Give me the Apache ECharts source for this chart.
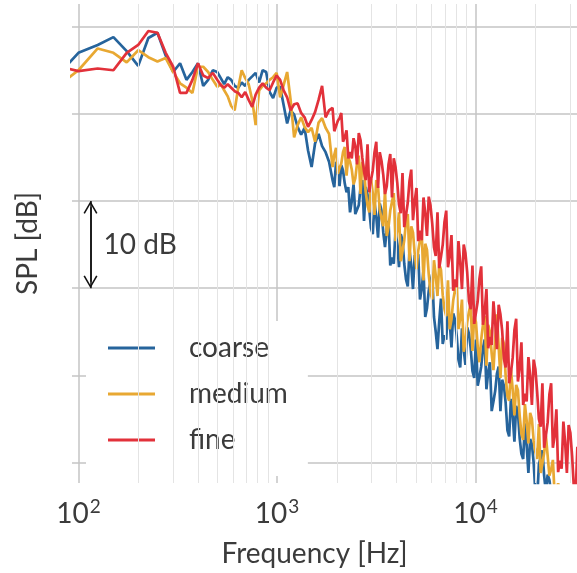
<!DOCTYPE html>
<html><head><meta charset="utf-8">
<script src="https://cdn.jsdelivr.net/npm/echarts@6/dist/echarts.min.js"></script>
<style>html,body{margin:0;padding:0;background:#fff}#c{width:577px;height:573px}</style>
</head><body><div id="c"></div>
<script>
// ---- data (frequency in Hz, SPL in dB, arbitrary reference) ----
const freqs = [75,100,125,150,175,200,225,250,275,300,325,350,375,400,425,450,475,
500,521,542,565,588,612,638,664,692,720,750,781,813,847,882,918,956,996,1037,1080,1125,1171,1220,1270,1323,1377,1434,1494,1555,1620,1687,1757,1829,
1905,1944,1984,2025,2066,2108,2151,2195,2240,2286,2333,2381,2430,2480,2530,2582,2635,2689,2744,2800,2858,2917,2976,3037,3099,3163,3228,3294,3361,3430,
3500,3572,3645,3720,3796,3874,3953,4034,4117,4202,4287,4375,4465,4557,4650,4745,4842,4941,5043,5147,5251,5359,5469,5581,5695,5812,5931,6053,6176,6303,
6432,6564,6698,6836,6976,7119,7264,7413,7565,7720,7878,8040,8204,8372,8544,8720,8897,9080,9266,9456,9649,9847,10049,10255,10465,10680,10898,11122,11349,11582,
11819,12061,12308,12560,12817,13080,13348,13622,13900,14185,14476,14773,15075,15384,15699,16021,16349,16684,17025,17374,17730,18094,18464,18843,19228,19622,
20024,20435,20853,21281,21716,22161,22615,23079,23551,24034,24526,25029,25541,26065,26598,27144,27699,28267,28846,29437,30040,30656,31283,31925,32578];

const coarse = [73.9,77.0,77.9,78.8,77.2,75.5,78.7,79.3,76.7,74.8,75.8,73.9,74.8,75.8,73.2,73.9,75.0,
74.8,74.1,73.4,74.2,73.9,73.2,73.0,73.6,73.2,73.9,74.3,74.7,73.6,75.0,74.8,72.5,71.8,73.0,73.1,71.0,68.9,70.4,69.9,68.5,67.6,68.4,65.8,63.9,66.6,67.7,66.3,65.6,64.5,
62.4,61.6,64.5,63.4,61.7,64.1,63.5,62.0,61.0,61.6,
58.7,60.0,61.9,58.5,58.6,59.5,61.6,62.4,57.7,61.6,
60.7,59.0,56.9,56.2,59.8,58.2,55.8,59.7,58.9,56.4,
54.7,56.8,57.7,52.6,53.5,52.8,56.6,55.1,52.4,56.2,
55.5,52.8,51.0,50.2,54.4,52.6,49.9,53.8,53.2,53.9,
48.7,49.9,52.1,46.7,47.7,49.7,50.7,51.6,46.7,45.0,
43.0,46.2,48.8,43.6,44.6,44.1,47.7,46.1,43.2,47.1,
46.4,44.5,41.8,40.9,45.4,42.9,41.2,45.5,44.8,43.1,
40.5,39.7,44.1,38.8,39.8,41.0,43.1,44.1,38.4,40.4,
41.5,35.9,37.0,38.2,40.2,41.0,35.9,39.5,38.8,36.8,
33.7,33.0,37.3,35.5,32.4,36.5,35.8,32.8,31.0,30.4,
34.5,32.0,28.8,32.7,32.1,30.0,26.5,25.7,29.8,30.6,
31.4,28.5,26.6,28.6,28.0,26.5,25.9,27.0,25.1,24.8,
24.6,24.3,24.0,23.7,23.4,23.1,22.8,22.5,22.3,22.0,21.7];

const medium = [72.8,75.0,77.5,77.0,75.9,77.3,76.5,76.0,76.4,74.8,73.5,73.0,72.4,75.4,75.4,74.8,73.9,
73.1,73.4,72.7,72.0,70.9,70.4,73.0,75.0,74.1,73.4,71.6,68.7,72.7,73.2,73.5,73.9,74.2,74.7,71.9,73.3,74.8,71.6,67.3,68.7,69.6,68.5,67.9,68.4,66.8,69.0,69.5,68.4,67.7,
63.9,65.3,66.1,63.1,63.8,64.3,65.6,66.2,62.9,65.0,
64.5,63.6,61.9,62.6,64.3,65.2,60.8,64.5,63.7,61.0,
59.5,58.7,62.5,60.9,58.4,62.4,61.6,59.0,58.0,57.1,
61.2,56.0,57.0,58.9,59.9,60.9,55.4,56.7,58.7,53.1,
54.2,55.5,57.6,58.5,53.1,57.1,56.4,53.9,52.2,54.3,
55.5,56.3,50.9,55.1,54.4,51.6,49.5,48.7,53.2,51.5,
49.1,52.8,52.1,49.2,47.6,46.8,50.9,45.3,46.4,48.6,
49.8,50.8,45.3,46.5,48.7,42.7,43.8,46.1,47.3,48.2,
42.8,46.8,46.1,43.3,41.5,44.1,45.8,46.8,41.1,45.8,
45.0,42.5,40.6,44.2,47.0,43.3,39.7,44.3,43.6,39.9,
37.6,37.1,40.7,38.4,35.4,38.9,38.3,35.4,33.3,32.6,
36.7,34.8,32.2,35.7,35.0,32.5,31.2,30.4,34.4,28.8,
29.9,31.1,33.1,33.0,28.5,29.2,30.3,26.3,26.9,27.6,
27.5,26.4,25.7,25.4,25.1,24.8,24.6,24.3,24.0,23.7,23.4];

const fine = [75.6,74.9,75.2,75.0,77.0,77.9,79.5,79.3,77.0,75.4,72.4,72.4,73.9,75.8,74.4,74.1,74.7,
73.9,73.3,73.0,73.4,73.0,72.6,72.4,71.9,72.5,71.6,70.8,72.2,73.0,73.5,73.0,72.7,73.6,74.4,73.9,72.7,71.9,70.4,71.1,71.2,70.1,69.6,68.5,69.3,70.2,71.6,73.2,69.6,70.4,
70.7,68.0,68.6,69.2,69.5,70.1,66.8,67.3,68.1,64.9,
65.6,64.9,67.2,66.3,64.2,67.8,67.0,65.0,63.4,62.4,
66.5,61.0,62.4,63.5,65.6,66.8,61.5,65.6,64.6,63.0,
60.8,61.7,64.2,65.4,60.4,64.9,63.9,62.1,59.6,58.6,
63.2,57.0,58.4,59.8,62.3,63.6,57.8,60.0,61.5,55.4,
56.6,55.5,60.4,58.6,56.0,60.5,59.5,57.4,54.7,53.7,
58.7,52.3,53.6,55.0,57.6,58.9,52.4,53.7,56.1,49.7,
51.0,50.1,55.4,53.0,49.9,55.0,54.0,51.8,48.5,47.6,
52.6,45.9,47.2,48.5,51.1,52.5,45.8,47.3,49.9,43.1,
44.4,43.5,48.5,46.1,43.0,48.1,47.0,45.1,41.9,40.9,
46.2,39.1,40.3,42.0,45.2,46.5,39.3,40.8,43.8,36.6,
37.9,37.0,42.1,39.9,36.6,41.8,40.7,38.1,35.0,34.1,
39.1,31.7,33.1,34.6,37.8,39.1,31.7,33.1,36.1,28.9,
30.2,29.3,34.7,32.3,28.8,34.3,33.4,30.7,27.1,26.2,31.8];

const seriesNames = ['coarse', 'medium', 'fine'];
const xRange = [92.8, 32440];
const yRange = [27.65, 82.6];
const minorFreqs = [200,300,400,500,600,700,800,900,2000,3000,4000,5000,6000,7000,8000,9000,20000,30000];
const scaleBarFreq = 115;      // x position of the 10 dB scale bar
const scaleBarDb = [60, 50];   // top / bottom of the scale bar
const scaleBarText = '10 dB';
const scaleBarTextAt = [127, 55];

// ---- styling ----
const FONT = "Lato, 'DejaVu Sans', sans-serif";
const TXT = '#3b3b3b';
const colors = ['#26649c', '#e8a832', '#e2313a'];
const chevron = 'path://M0,12 L7,0 L14,12 L12.6,12.8 L7,3 L1.4,12.8 Z';
const headInset = 0.73;

const chart = echarts.init(document.getElementById('c'), null, {renderer: 'canvas'});

const lineSeries = [coarse, medium, fine].map((vals, k) => ({
  name: seriesNames[k],
  type: 'line',
  data: freqs.map((f, i) => [f, vals[i]]),
  showSymbol: false,
  symbol: 'none',
  clip: true,
  z: 3 + k,
  lineStyle: {color: colors[k], width: 2.7},
  itemStyle: {color: colors[k]},
  emphasis: {disabled: true},
  silent: true
}));

// legend swatches drawn as rich-text bars
const legendRich = {t: {fontFamily: FONT, fontSize: 28, color: TXT, lineHeight: 24, padding: [0, 0, 0, 34]}};
seriesNames.forEach((n, k) => {
  legendRich['b' + k] = {width: 47, height: 3, backgroundColor: colors[k], verticalAlign: 'middle'};
});

const option = {
  animation: false,
  backgroundColor: '#ffffff',
  grid: {left: 72, right: 0, top: 4, bottom: 90},
  xAxis: {
    type: 'log', logBase: 10, min: xRange[0], max: xRange[1],
    axisLine: {show: false}, axisTick: {show: false},
    splitLine: {show: true, showMinLine: false, showMaxLine: false, lineStyle: {color: '#c4c4c4', width: 1.5}},
    axisLabel: {
      margin: 14, showMinLabel: false, showMaxLabel: false,
      formatter: function (v) {
        const l = Math.log10(v), e = Math.round(l);
        return Math.abs(l - e) < 1e-6 ? '{b|10}{s|' + e + '}' : '';
      },
      rich: {
        b: {fontFamily: FONT, fontSize: 28, color: TXT, lineHeight: 34},
        s: {fontFamily: FONT, fontSize: 19, color: TXT, lineHeight: 20, verticalAlign: 'top', padding: [0, 0, 0, 1]}
      }
    },
    name: 'Frequency [Hz]', nameLocation: 'middle', nameGap: 57,
    nameTextStyle: {fontFamily: FONT, fontSize: 28, color: TXT, padding: [0, 20, 0, 0]}
  },
  yAxis: {
    type: 'value', min: yRange[0], max: yRange[1], minInterval: 10, maxInterval: 10,
    axisLine: {show: false}, axisTick: {show: false}, axisLabel: {show: false},
    splitLine: {show: true, showMinLine: false, showMaxLine: false, lineStyle: {color: '#c4c4c4', width: 1.5}},
    name: 'SPL [dB]', nameLocation: 'middle', nameGap: 30,
    nameTextStyle: {fontFamily: FONT, fontSize: 28, color: TXT}
  },
  legend: {
    data: seriesNames.map(n => ({name: n, icon: 'path://M0,0H1V1H0Z', itemStyle: {opacity: 0}})),
    orient: 'vertical', left: 86, top: 321,
    padding: [13, 20, 22, 16], itemGap: 18,
    itemWidth: 1, itemHeight: 1,
    backgroundColor: '#ffffff',
    selectedMode: false,
    formatter: function (name) {
      return '{b' + seriesNames.indexOf(name) + '|}{t|' + name + '}';
    },
    textStyle: {fontFamily: FONT, fontSize: 28, color: TXT, lineHeight: 24, rich: legendRich}
  },
  series: [
    {
      type: 'line', data: [], z: 1, silent: true,
      markLine: {
        silent: true, symbol: 'none', animation: false,
        label: {show: false},
        lineStyle: {color: '#e4e4e4', width: 1, type: 'solid'},
        data: minorFreqs.map(f => ({xAxis: f}))
      }
    },
    ...lineSeries,
    {
      type: 'line', data: [], z: 10, silent: true,
      markLine: {
        silent: true, animation: false, symbol: [chevron, chevron], symbolSize: [14, 12.8],
        label: {show: false},
        lineStyle: {color: '#111111', width: 1.5, type: 'solid'},
        itemStyle: {color: '#111111'},
        data: [[{coord: [scaleBarFreq, scaleBarDb[0] - headInset]}, {coord: [scaleBarFreq, scaleBarDb[1] + headInset]}]]
      }
    },
    {
      type: 'line', data: [], z: 10, silent: true,
      markLine: {
        silent: true, animation: false, symbol: 'none',
        label: {show: false},
        lineStyle: {color: '#111111', width: 1.5, type: 'solid'},
        data: [[{coord: [scaleBarFreq, scaleBarDb[0]]}, {coord: [scaleBarFreq, scaleBarDb[1]]}]]
      },
      markPoint: {
        silent: true, animation: false, symbol: 'rect', symbolSize: 1,
        itemStyle: {color: 'rgba(0,0,0,0)'},
        label: {show: true, position: 'right', distance: 4, formatter: scaleBarText,
                fontFamily: FONT, fontSize: 28, color: TXT},
        data: [{coord: scaleBarTextAt, value: 0}]
      }
    }
  ]
};
chart.setOption(option);
</script>
</body></html>
